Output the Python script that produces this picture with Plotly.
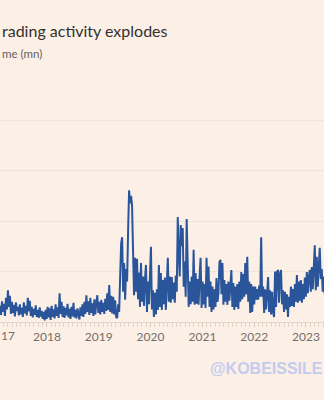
import pandas as pd
import plotly.graph_objects as go

# ---- data (weekly trading volume, mn) ----
start_date = "2017-02-04"
volume_mn = [
    # 2017 Feb-Jun
    3.2, 1.4, 4.1, 2.0, 3.6, 1.2, 4.8, 2.5, 6.3, 3.0, 5.2, 1.6, 4.0, 1.8, 3.4, 1.1, 3.9, 2.2, 3.0, 1.3,
    # 2017 Jun-Dec
    3.5, 1.5, 2.8, 1.0, 3.9, 1.7, 3.2, 1.3, 4.8, 2.1, 4.2, 1.2, 3.0, 0.9, 2.6, 1.4, 3.3, 1.0, 2.4, 0.8,
    2.9, 1.1, 2.2, 0.6, 2.0,
    # 2018
    0.3, 2.4, 0.6, 3.0, 0.9, 2.7, 0.4, 3.2, 1.0, 2.5, 0.7, 3.5, 1.2, 2.9, 0.8,
    5.7, 1.6, 4.0, 1.0, 3.1, 0.8, 2.8, 1.3, 3.6, 0.9, 2.6, 0.6, 3.0, 1.1, 3.8, 0.9, 2.4, 0.7, 2.7, 1.2,
    0.5, 2.9, 1.2, 3.5, 1.0, 4.0, 1.6, 5.3, 2.0, 4.1, 1.4, 4.8, 1.8, 3.7, 1.2, 4.5, 1.5, 3.9,
    # 2019
    5.3, 1.8, 4.0, 1.5, 4.4, 2.0, 3.8, 1.6, 4.6, 2.2, 5.7, 2.4, 7.3, 2.0, 5.2, 1.7, 5.0, 1.5, 4.3, 1.0,
    0.8, 3.5, 2.0, 9.0, 15.6, 16.8, 6.0, 11.7, 4.4, 10.5, 8.0, 18.0, 26.1, 23.5, 25.0, 23.0, 12.9, 5.3, 12.7, 6.0,
    # 2020
    12.5, 4.5, 9.8, 3.0, 11.7, 4.0, 9.0, 3.2, 8.5, 11.3, 2.0, 8.0, 3.5, 9.5, 14.9, 2.5, 6.3, 1.0, 5.8, 1.5,
    6.5, 2.4,
    11.3, 3.0, 9.7, 2.4, 8.3, 3.5, 8.8, 2.4, 7.5, 12.7, 4.0, 9.0, 3.8, 8.9, 4.5, 7.8, 3.8, 9.2, 6.0, 20.8,
    # 2021
    14.0, 9.0, 19.2, 15.0, 18.6, 7.0, 12.0, 5.0, 20.4, 12.0, 3.0, 8.0, 3.5, 9.0, 4.0, 14.3, 3.4, 9.7, 3.6, 8.5,
    3.4, 9.0, 12.7, 2.8, 8.0, 3.5, 7.5, 2.8, 12.7, 5.0, 11.0, 3.0, 8.0, 2.0, 7.0, 2.5, 6.5, 3.0, 8.7, 4.0,
    # 2021-2022
    5.7, 11.9, 12.3, 5.5, 11.7, 3.4, 8.3, 4.0, 7.5, 3.4, 8.0, 4.2, 7.0, 10.3, 3.0, 7.7, 2.4, 7.0, 3.0, 7.5,
    2.6, 8.0, 4.0, 9.9, 4.5, 9.5, 5.0, 11.7, 5.5, 12.9, 4.0, 8.0, 1.8, 7.5, 2.0, 7.0, 3.5, 7.0, 4.4, 6.5,
    # 2022-2023
    4.4, 7.2, 5.0, 16.8, 5.0, 7.0, 1.8, 6.5, 2.5, 5.0, 8.9, 2.0, 6.3, 1.5, 6.0, 2.0, 1.0, 10.0, 3.0, 9.9,
    10.3, 3.8, 9.5, 10.3, 3.5, 6.3, 2.0, 6.0, 2.5, 5.5, 1.0, 5.0, 3.0, 7.0, 3.2, 6.5, 3.0, 7.5, 4.0, 9.3,
    3.8, 8.0, 4.2, 8.3, 3.8, 7.5, 4.5, 8.8, 5.0, 9.9, 5.7, 9.0, 10.3, 6.0, 10.9, 6.5, 10.0, 15.2, 6.3, 12.9,
    7.0, 11.0, 14.7, 8.5, 10.5, 6.0, 9.0, 5.5,
]
dates = pd.date_range(start=start_date, periods=len(volume_mn), freq="7D")

year_ticks = ["2018-01-01", "2019-01-01", "2020-01-01",
              "2021-01-01", "2022-01-01", "2023-01-01", "2024-01-01"]
year_labels = ["2018", "2019", "2020", "2021", "2022", "2023", "2024"]
first_year_label = "17"   # the visible tail of the cropped "2017" label
y_grid = [0, 10, 20, 30, 40]

title_text = "rading activity explodes"
subtitle_text = "me (mn)"
watermark_text = "@KOBEISSILE"

BG = "#fcf0e6"
LINE = "#2a559a"
TICKFONT = dict(family="Lato, Open Sans, sans-serif", size=12, color="#746e6a")

fig = go.Figure()
fig.add_trace(go.Scatter(
    x=dates, y=volume_mn, mode="lines",
    line=dict(color=LINE, width=2),
    hoverinfo="skip", showlegend=False,
))

fig.update_layout(
    width=324, height=400,
    margin=dict(l=0, r=0, t=118, b=78, pad=0),
    paper_bgcolor=BG, plot_bgcolor=BG,
    showlegend=False,
    xaxis=dict(
        range=["2017-02-04", "2023-05-08"],
        tickmode="array", tickvals=year_ticks, ticktext=year_labels,
        showgrid=False, zeroline=False,
        showline=True, linecolor="#e3d6ca", linewidth=1,
        ticks="outside", ticklen=4, tickcolor="#d8cbbf", tickwidth=1,
        minor=dict(ticks="outside", dtick="M1", tick0="2017-01-01", ticklen=4,
                   tickcolor="#e0d3c7", tickwidth=1, showgrid=False),
        tickfont=TICKFONT,
        fixedrange=True,
    ),
    yaxis=dict(
        range=[0, 40.4],
        tickmode="array", tickvals=y_grid,
        showticklabels=False,
        showgrid=True, gridcolor="#f0e3d7", gridwidth=1,
        zeroline=False, showline=False, ticks="",
        fixedrange=True,
    ),
    annotations=[
        dict(text=title_text, x=0, y=(322 - 30) / 204, xref="paper", yref="paper",
             xanchor="left", yanchor="middle", showarrow=False,
             font=dict(family="Lato, Open Sans, sans-serif", size=16, color="#33302e")),
        dict(text=subtitle_text, x=0, y=(322 - 53) / 204, xref="paper", yref="paper",
             xanchor="left", yanchor="middle", showarrow=False,
             font=dict(family="Lato, Open Sans, sans-serif", size=11.5, color="#66605c")),
        dict(text=first_year_label, x=0, y=0, xref="paper", yref="paper",
             xanchor="left", yanchor="top", yshift=-4, xshift=-1, showarrow=False,
             font=TICKFONT),
        dict(text="<b>" + watermark_text + "</b>", x=208 / 324, y=(322 - 368) / 204,
             xref="paper", yref="paper", xanchor="left", yanchor="middle", showarrow=False,
             font=dict(family="Liberation Sans, Arial, sans-serif", size=16, color="#c3cbef")),
    ],
)

fig.write_html("out.html")
